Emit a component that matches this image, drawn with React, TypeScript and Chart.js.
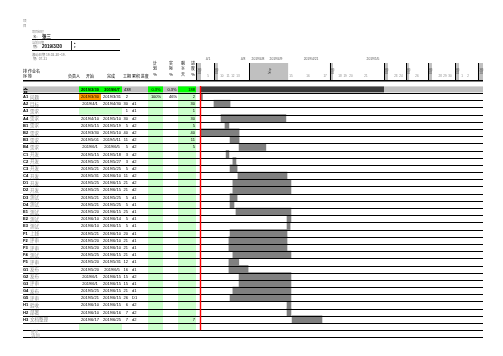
import React, { useEffect, useRef } from "react";
import { Chart, registerables } from "chart.js";

Chart.register(...registerables);

// ---------- data ----------
const taskIds = ["A1","A2","A3","A4","B1","B2","B3","B4","C1","C2","C3","C4","D1","D2","D3","D4","E1","E2","E3","F1","F2","F3","F4","F5","G1","G2","G3","G4","G5","H1","H2","H3"];
const taskNames = ["问题","目标","需求","需求","需求","需求","需求","需求","开发","开发","开发","开发","开发","开发","测试","测试","测试","测试","测试","上线","评审","评审","测试","评审","发布","发布","评审","发布","评审","验收","部署","文档整理"];
const startDates = ["2019/3/30","2019/4/1","","2019/4/10","2019/5/15","2019/3/30","2019/5/01","2019/6/1","2019/5/15","2019/5/25","2019/5/21","2019/5/31","2019/5/25","2019/5/25","2019/5/21","2019/5/21","2019/5/20","2019/6/10","2019/6/10","2019/5/21","2019/5/20","2019/5/20","2019/5/25","2019/5/20","2019/5/20","2019/6/1","2019/6/1","2019/5/25","2019/5/21","2019/6/10","2019/6/10","2019/6/17"];
const endDates = ["2019/3/31","2019/4/30","","2019/5/10","2019/5/19","2019/5/10","2019/5/11","2019/6/5","2019/5/18","2019/5/27","2019/5/25","2019/6/10","2019/6/15","2019/6/15","2019/5/25","2019/5/25","2019/6/15","2019/6/14","2019/6/15","2019/6/10","2019/6/10","2019/6/10","2019/6/15","2019/5/31","2019/6/5","2019/6/15","2019/6/15","2019/6/15","2019/6/15","2019/6/15","2019/6/16","2019/6/25"];
const durations = ["2","30","1","30","5","40","11","5","3","3","5","11","21","21","5","5","25","5","5","20","21","21","21","12","16","15","15","21","26","6","7","7"];
const crewCodes = ["","d1","d1","d2","d2","d2","d2","d2","d2","d2","d2","d2","d2","d2","d1","d1","d1","d1","d1","d1","d1","d1","d1","d1","d1","d2","d1","d1","D1","d2","d2","d2"];
const planPct = ["100%","","","","","","","","","","","","","","","","","","","","","","","","","","","","","","",""];
const actualPct = ["46%","","","","","","","","","","","","","","","","","","","","","","","","","","","","","","",""];
const remainDays = ["2","30","1","30","5","40","11","5","","","","","","","","","","","","","","","","","","","","","","","","7"];

// bar positions on the timeline (timeline units 0-100)
const barStart = [0, 4.6, null, 7.1, 8.5, 0, 10.3, 13.5, 8.9, 11.3, 10.3, 13.1, 11.3, 11.3, 10.3, 10.3, 12.4, 30.5, 30.5, 10.3, 9.9, 9.9, 11.3, 9.9, 9.9, 13.5, 13.5, 11.3, 10.3, 30.5, 30.5, 32.3];
const barEnd = [0.5, 10.3, null, 30.1, 9.9, 13.5, 13.5, 23.0, 9.9, 12.4, 12.8, 30.5, 31.9, 31.9, 12.8, 11.7, 31.9, 31.9, 31.6, 30.5, 30.5, 30.5, 31.9, 13.4, 16.7, 31.9, 31.9, 31.9, 31.9, 31.9, 31.9, 42.9];

const todayPos = 0;
const summaryDarkEnd = 64.9;

// timeline header
const shadeStart = [-1.8, 4.6, 17.0, 45.7, 64.9, 72.7, 80.5, 90.1, 98.2];
const shadeEnd = [0, 6.0, 30.9, 46.8, 66.3, 73.8, 81.9, 91.5, 100];
const shadeText = ["周日", "周日", "今天", "周日", "周日", "周日", "周日", "周日", "周日"];
const headerDates = ["4/1", "4/8", "2019/4/8", "2019/4/9", "2019/4/21", "2019/5/5"];
const headerDatePos = [2.5, 14.9, 20.2, 26.6, 39.0, 61.0];
const dayLabels = ["5","10","11","12","13","15","16","17","18","19","20","21","23","24","26","28","29","30","1","2"];
const dayPos = [2.5, 7.4, 9.6, 11.3, 13.1, 31.9, 37.9, 44.0, 49.3, 51.1, 53.2, 58.5, 69.1, 70.9, 76.6, 84.8, 86.5, 88.3, 92.6, 94.7];

// summary row
const totalStart = "2019/3/30";
const totalEnd = "2019/6/7";
const totalDuration = "438";
const totalPlan = "0.3%";
const totalActual = "0.3%";
const totalRemain = "188";

const projectName = "张三";
const currentDate = "2019/3/30";

// ---------- styles ----------
const LIGHT_GREEN = "#ccffcc";
const GREEN = "#00ff00";
const ORANGE = "#ff9900";
const HDR_GRAY = "#c0c0c0";
const BAR_GRAY = "#808080";
const DARK = "#3a3a3a";
const LATIN = "'Liberation Sans', Arial, sans-serif";
const CJK = "'Noto Sans CJK SC', sans-serif";

function txt(ctx: CanvasRenderingContext2D, s: string, x: number, y: number, o: any = {}) {
  ctx.font = `${o.bold ? "bold " : ""}${o.size || 4}px ${o.cjk ? CJK : LATIN}`;
  ctx.fillStyle = o.color || "#000";
  ctx.textAlign = o.align || "left";
  ctx.textBaseline = "middle";
  ctx.fillText(s, x, y);
}

const ganttPlugin = {
  id: "ganttTable",
  beforeDatasetsDraw(chart: any) {
    const { ctx, chartArea: ca, scales } = chart;
    const xs = scales.x;
    const n = taskIds.length;
    const rowH = (ca.bottom - ca.top) / n;
    const tableBottom = ca.top + rowH * (n + 1);
    ctx.save();
    // green columns
    ctx.fillStyle = LIGHT_GREEN;
    ctx.fillRect(148, ca.top, 15, tableBottom - ca.top);
    ctx.fillRect(178, ca.top, 18, tableBottom - ca.top);
    for (let i = 0; i <= n; i++) {
      if (i === n || !startDates[i]) {
        ctx.fillRect(79, ca.top + rowH * i, 43, rowH);
      }
    }
    ctx.fillStyle = ORANGE;
    ctx.fillRect(79, ca.top, 22, rowH);

    // summary row
    const hTop = ca.top - 6.6;
    const hH = 6;
    ctx.fillStyle = HDR_GRAY;
    ctx.fillRect(23, hTop, 178, hH);
    ctx.fillStyle = GREEN;
    ctx.fillRect(79, hTop, 43, hH);
    ctx.fillRect(148, hTop, 15, hH);
    ctx.fillRect(178, hTop, 18, hH);
    const x0 = xs.getPixelForValue(0);
    const xd = xs.getPixelForValue(summaryDarkEnd);
    const x1 = xs.getPixelForValue(100);
    ctx.fillStyle = DARK;
    ctx.fillRect(x0, hTop, xd - x0, hH);
    ctx.fillStyle = HDR_GRAY;
    ctx.fillRect(xd, hTop, x1 - xd, hH);

    // timeline header shaded columns
    for (let i = 0; i < shadeStart.length; i++) {
      const a = xs.getPixelForValue(shadeStart[i]);
      const b = xs.getPixelForValue(shadeEnd[i]);
      ctx.fillStyle = HDR_GRAY;
      ctx.fillRect(a, 63, b - a, 17);
      ctx.fillStyle = "#000";
      ctx.fillRect(Math.round(a), 63, 1, 17);
    }
    ctx.restore();
  },
  afterDatasetsDraw(chart: any) {
    const { ctx, chartArea: ca, scales } = chart;
    const xs = scales.x;
    const ys = scales.y;
    const n = taskIds.length;
    const rowH = (ca.bottom - ca.top) / n;
    const right = xs.getPixelForValue(100);
    ctx.save();

    // row lines
    ctx.fillStyle = "#000";
    for (let i = 0; i <= n + 2; i++) {
      const yy = Math.round(ca.top + rowH * i);
      ctx.fillRect(23, yy, right - 23, 1);
    }
    ctx.fillRect(23, 80, right - 23, 1.5);

    // today line
    const tx = xs.getPixelForValue(todayPos);
    ctx.fillStyle = "#ff0000";
    ctx.fillRect(tx - 1.2, ca.top - 7, 1.4, rowH * (n + 1) + 7);

    // table text
    for (let i = 0; i < n; i++) {
      const cy = ys.getPixelForValue(i) + 0.3;
      txt(ctx, taskIds[i], 23, cy, { bold: true, size: 4 });
      txt(ctx, taskNames[i], 30, cy, { cjk: true, size: 4.5, color: "#8a8a8a" });
      if (startDates[i]) txt(ctx, startDates[i], 90, cy, { align: "center" });
      if (endDates[i]) txt(ctx, endDates[i], 112, cy, { align: "center" });
      txt(ctx, durations[i], 128, cy, { align: "right" });
      if (crewCodes[i]) txt(ctx, crewCodes[i], 132, cy);
      if (planPct[i]) txt(ctx, planPct[i], 156, cy, { align: "center" });
      if (actualPct[i]) txt(ctx, actualPct[i], 173, cy, { align: "center" });
      if (remainDays[i]) txt(ctx, remainDays[i], 195, cy, { align: "right" });
    }
    // summary row text
    const sy = ca.top - 3.4;
    txt(ctx, "合", 23, sy, { bold: true, size: 5, cjk: true });
    txt(ctx, totalStart, 90, sy, { align: "center", bold: true });
    txt(ctx, totalEnd, 112, sy, { align: "center", bold: true });
    txt(ctx, totalDuration, 124, sy);
    txt(ctx, totalPlan, 156, sy, { align: "center" });
    txt(ctx, totalActual, 172, sy, { align: "center" });
    txt(ctx, totalRemain, 195, sy, { align: "right" });

    // add row
    const addY = ca.top + rowH * (n + 1);
    txt(ctx, "新增", 31, addY + 1.5, { cjk: true, size: 3.5, color: "#b0b0b0" });
    txt(ctx, "添加", 31, addY + 5, { cjk: true, size: 4.5, color: "#a0a0a0" });

    // column headers
    txt(ctx, "排 作业名", 23, 71, { cjk: true, size: 4 });
    txt(ctx, "序 称", 23, 76, { cjk: true, size: 4 });
    txt(ctx, "负责人", 68, 76, { cjk: true, size: 4 });
    txt(ctx, "开始", 86, 76, { cjk: true, size: 4 });
    txt(ctx, "完成", 107, 76, { cjk: true, size: 4 });
    txt(ctx, "工期 累积 进度", 123, 76, { cjk: true, size: 4 });
    const stack = [["计", "划", "%"], ["实", "际", "%"], ["剩", "余", "天"], ["进", "度", "%"]];
    const stackX = [155, 171, 183, 193];
    stack.forEach((col, j) => col.forEach((c, k) => txt(ctx, c, stackX[j], 63 + k * 5.5, { cjk: true, size: 4, align: "center" })));

    // project info
    txt(ctx, "项", 23, 21, { cjk: true, size: 3.5, color: "#888" });
    txt(ctx, "目", 23, 25.5, { cjk: true, size: 3.5, color: "#888" });
    txt(ctx, "项目经理", 32, 32, { cjk: true, size: 3, color: "#888" });
    txt(ctx, "名:", 33, 36.5, { cjk: true, size: 3.5, color: "#555" });
    txt(ctx, projectName, 42, 36.5, { cjk: true, size: 4.5, bold: true });
    ctx.fillStyle = "#000";
    ctx.fillRect(32, 39, 88, 1);
    txt(ctx, "当前日期", 32, 43, { cjk: true, size: 3, color: "#888" });
    txt(ctx, "期:", 33, 47, { cjk: true, size: 3.5, color: "#555" });
    txt(ctx, currentDate, 42, 47, { bold: true, size: 4.5 });
    ctx.fillStyle = "#000";
    ctx.fillRect(71, 41, 0.8, 9);
    txt(ctx, "▲", 73.5, 43.5, { size: 2.5 });
    txt(ctx, "▼", 73.5, 47.5, { size: 2.5 });
    ctx.fillStyle = "#000";
    ctx.fillRect(32, 50, 88, 1);
    txt(ctx, "滚动日期 19-02-20~19-", 32, 54.5, { cjk: true, size: 3.3, color: "#777" });
    txt(ctx, "期:  07-31", 33, 59, { cjk: true, size: 3.3, color: "#777" });

    // timeline header labels
    headerDates.forEach((d, i) => txt(ctx, d, xs.getPixelForValue(headerDatePos[i]), 59.5, { size: 3.3, color: "#555", align: "center" }));
    dayLabels.forEach((d, i) => txt(ctx, d, xs.getPixelForValue(dayPos[i]), 76.5, { size: 3, color: "#888", align: "center" }));
    for (let i = 0; i < shadeStart.length; i++) {
      const cx = (xs.getPixelForValue(shadeStart[i]) + xs.getPixelForValue(shadeEnd[i])) / 2 + 0.5;
      ctx.save();
      ctx.translate(cx, 71);
      ctx.rotate(Math.PI / 2);
      txt(ctx, shadeText[i], 0, 0, { cjk: true, size: 3, color: "#333", align: "center" });
      ctx.restore();
    }
    ctx.restore();
  },
};

export default function App() {
  const ref = useRef<HTMLCanvasElement>(null);
  useEffect(() => {
    if (!ref.current) return;
    const chart = new Chart(ref.current, {
      type: "bar",
      data: {
        labels: taskIds,
        datasets: [
          {
            data: barStart.map((s, i) => (s === null ? null : [s, barEnd[i] as number])) as any,
            backgroundColor: BAR_GRAY,
            borderWidth: 0,
            barPercentage: 1,
            categoryPercentage: 1,
          },
        ],
      },
      options: {
        indexAxis: "y",
        animation: false,
        responsive: false,
        maintainAspectRatio: false,
        devicePixelRatio: 1,
        layout: { padding: { left: 201, right: 20, top: 93, bottom: 33 } },
        plugins: { legend: { display: false }, tooltip: { enabled: false } },
        scales: {
          x: { type: "linear", min: 0, max: 100, display: false },
          y: { type: "category", display: false, offset: true },
        },
      },
      plugins: [ganttPlugin],
    });
    return () => chart.destroy();
  }, []);
  return (
    <div style={{ position: "absolute", left: 0, top: 0, width: 503, height: 356, background: "#fff" }}>
      <canvas ref={ref} width={503} height={356} style={{ display: "block", width: 503, height: 356 }} />
    </div>
  );
}
